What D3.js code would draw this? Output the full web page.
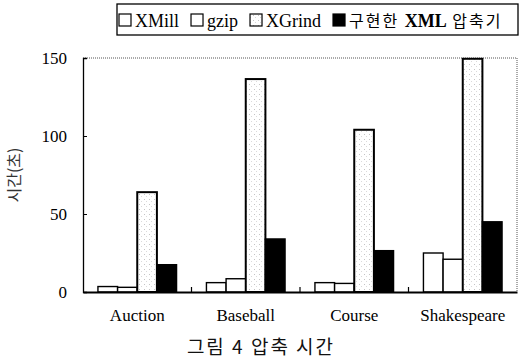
<!DOCTYPE html>
<html>
<head>
<meta charset="utf-8">
<script src="https://cdn.jsdelivr.net/npm/d3@7"></script>
<style>
  body { margin: 0; background: #fff; }
  svg { display: block; }
  .serif { font-family: "Liberation Serif", "Times New Roman", Times, serif; }
  .kr { font-family: "Noto Sans CJK KR", sans-serif; }
</style>
</head>
<body>
<div id="chart"></div>
<script>
// Figure 4 — compression time (grouped bars)
const categories = ["Auction", "Baseball", "Course", "Shakespeare"];
const seriesNames = ["XMill", "gzip", "XGrind", "구현한 XML 압축기"];
const xmill = [3.5, 6, 6, 25];
const gzip = [3, 8.5, 5.5, 21];
const xgrind = [64, 136.5, 104, 149.5];
const ours = [17.5, 34, 26.5, 45];
const yTicks = [0, 50, 100, 150];

const values = [xmill, gzip, xgrind, ours];
const rows = [];
categories.forEach((c, i) => {
  seriesNames.forEach((s, j) => rows.push({ cat: c, series: s, idx: j, value: values[j][i] }));
});

const W = 527, H = 360;
const margin = { top: 58, right: 10, bottom: 68, left: 83 };
const width = W - margin.left - margin.right;
const height = H - margin.top - margin.bottom;

const svg = d3.select("#chart").append("svg")
  .attr("width", W).attr("height", H);

// stipple fill for XGrind
const defs = svg.append("defs");
const pat = defs.append("pattern").attr("id", "dots")
  .attr("width", 5).attr("height", 5).attr("patternUnits", "userSpaceOnUse");
pat.append("rect").attr("width", 5).attr("height", 5).attr("fill", "#fff");
pat.append("rect").attr("x", 1).attr("y", 1).attr("width", 1).attr("height", 1).attr("fill", "#c4c4c4");
pat.append("rect").attr("x", 3).attr("y", 3).attr("width", 1).attr("height", 1).attr("fill", "#dadada");

const fills = ["#fff", "#fff", "url(#dots)", "#000"];

const g = svg.append("g").attr("transform", `translate(${margin.left},${margin.top})`);

const x = d3.scaleBand().domain(categories).range([0, width]);
const x1 = d3.scaleBand().domain(seriesNames).range([0, x.bandwidth()]).paddingOuter(0.76);
const y = d3.scaleLinear().domain([0, 150]).range([height, 0]);

// dotted frame top / right
g.append("line").attr("x1", 0).attr("x2", width).attr("y1", 0).attr("y2", 0)
  .attr("stroke", "#555").attr("stroke-dasharray", "1,1");
g.append("line").attr("x1", width).attr("x2", width).attr("y1", 0).attr("y2", height)
  .attr("stroke", "#555").attr("stroke-dasharray", "1,1");

// bars
g.selectAll(".bar")
  .data(rows)
  .join("rect")
  .attr("class", "bar")
  .attr("x", d => x(d.cat) + x1(d.series))
  .attr("y", d => y(d.value))
  .attr("width", x1.bandwidth())
  .attr("height", d => y(0) - y(d.value))
  .attr("fill", d => fills[d.idx])
  .attr("stroke", "#000")
  .attr("stroke-width", d => d.idx === 2 ? 2 : 1.4);

// y axis
const yAxis = g.append("g")
  .call(d3.axisLeft(y).tickValues(yTicks).tickSize(-4).tickPadding(16));
yAxis.select(".domain").attr("stroke", "#000").attr("stroke-width", 1.3);
yAxis.selectAll("text").attr("class", "serif").attr("font-size", 17).attr("fill", "#000");

// x axis
const xAxis = g.append("g").attr("transform", `translate(0,${height})`)
  .call(d3.axisBottom(x).tickSize(0).tickPadding(17));
xAxis.select(".domain").attr("stroke", "#000").attr("stroke-width", 1.8);
xAxis.selectAll("text").attr("class", "serif").attr("font-size", 17).attr("fill", "#000");
g.selectAll(".sep")
  .data(categories.slice(1))
  .join("line")
  .attr("x1", d => x(d)).attr("x2", d => x(d))
  .attr("y1", height).attr("y2", height - 5)
  .attr("stroke", "#000").attr("stroke-width", 1.2);

// y title
svg.append("text")
  .attr("class", "kr")
  .attr("transform", `translate(20,${margin.top + height / 2}) rotate(-90)`)
  .attr("text-anchor", "middle")
  .attr("font-size", 16)
  .attr("fill", "#333")
  .text("시간(초)");

// caption
svg.append("text")
  .attr("class", "kr")
  .attr("x", 261).attr("y", 354)
  .attr("text-anchor", "middle")
  .attr("font-size", 19)
  .attr("letter-spacing", 2)
  .attr("fill", "#111")
  .text("그림 4 압축 시간");

// legend
const leg = svg.append("g").attr("transform", "translate(117,4)");
leg.append("rect").attr("width", 401).attr("height", 31)
  .attr("fill", "#fff").attr("stroke", "#000").attr("stroke-width", 1.3);
let cx = 2;
seriesNames.forEach((s, j) => {
  leg.append("rect").attr("x", cx).attr("y", 10).attr("width", 12).attr("height", 12)
    .attr("fill", fills[j]).attr("stroke", "#000").attr("stroke-width", 1.2);
  cx += 16;
  const t = leg.append("text").attr("x", cx).attr("y", 23).attr("fill", "#000");
  if (j < 3) {
    t.attr("class", "serif").attr("font-size", 18).text(s);
  } else {
    const parts = s.split(" ");
    t.append("tspan").attr("class", "kr").attr("font-size", 16).attr("letter-spacing", 2).text(parts[0] + " ");
    t.append("tspan").attr("class", "serif").attr("font-size", 18).attr("font-weight", "bold").text(parts[1]);
    t.append("tspan").attr("class", "kr").attr("font-size", 16).attr("letter-spacing", 2).text(" " + parts[2]);
  }
  cx += t.node().getComputedTextLength() + 12;
});
</script>
</body>
</html>
